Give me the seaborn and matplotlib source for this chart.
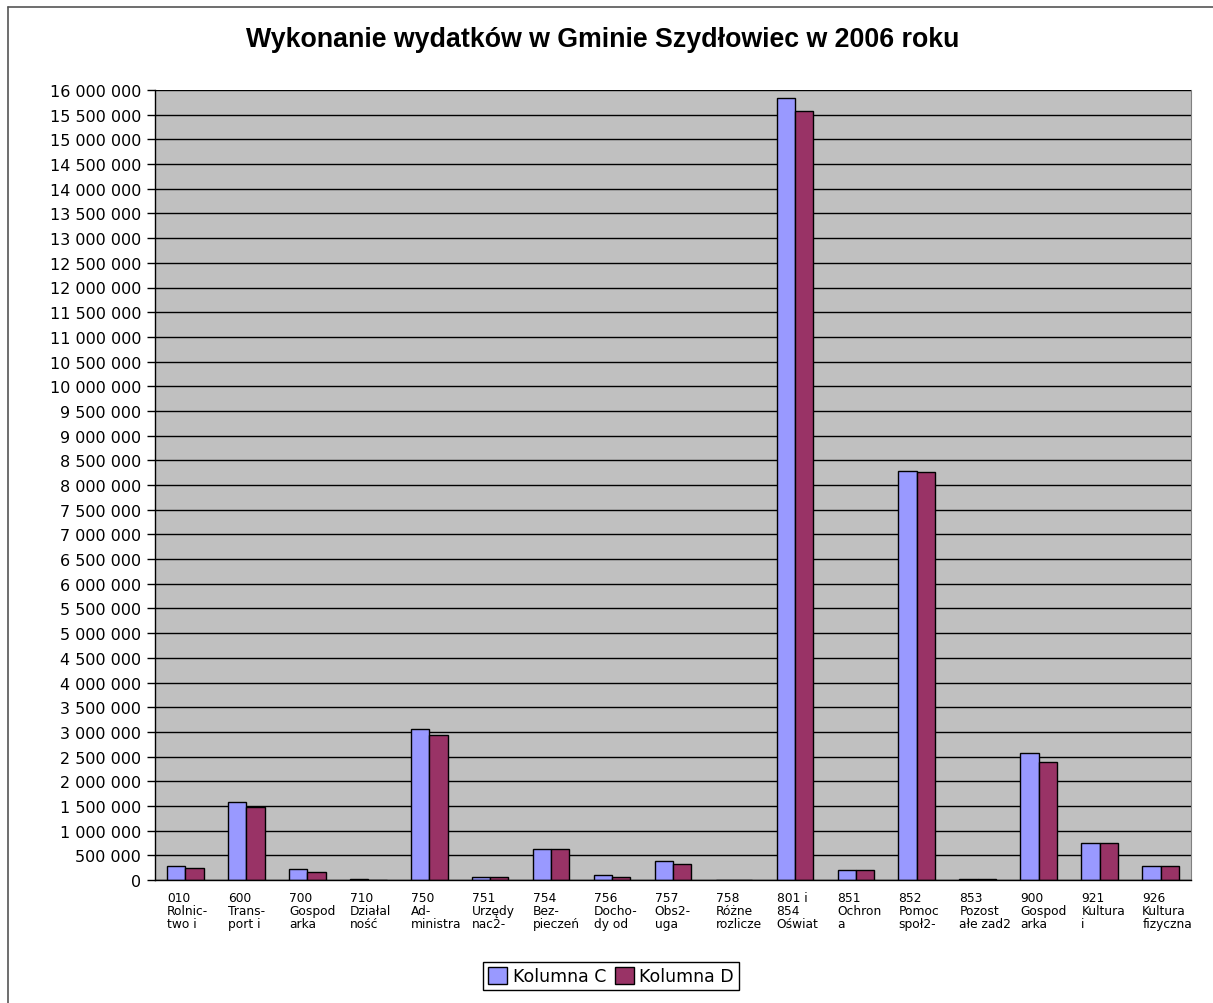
import numpy as np
import pandas as pd
import matplotlib
matplotlib.use("Agg")
import matplotlib.pyplot as plt
from matplotlib.lines import Line2D
import seaborn as sns

# Dane
kategorie = ["010\nRolnic-\ntwo i", "600\nTrans-\nport i", "700\nGospod\narka",
             "710\nDziałal\nność", "750\nAd-\nministra", "751\nUrzędy\nnac2-",
             "754\nBez-\npieczeń", "756\nDocho-\ndy od", "757\nObs2-\nuga",
             "758\nRóżne\nrozlicze", "801 i\n854\nOświat", "851\nOchron\na",
             "852\nPomoc\nspoł2-", "853\nPozost\nałe zad2", "900\nGospod\narka",
             "921\nKultura\ni", "926\nKultura\nfizyczna"]
kolumna_c = [275000, 1575000, 215000, 27000, 3050000, 67000, 635000, 95000, 380000,
             0, 15830000, 200000, 8290000, 30000, 2580000, 740000, 275000]
kolumna_d = [235000, 1470000, 155000, 8000, 2940000, 65000, 635000, 70000, 330000,
             0, 15570000, 200000, 8260000, 28000, 2400000, 740000, 275000]
serie = ["Kolumna C", "Kolumna D"]
kolory = ["#9999FF", "#993366"]

df = pd.DataFrame({
    "kat": kategorie * 2,
    "wartosc": kolumna_c + kolumna_d,
    "seria": [serie[0]] * len(kategorie) + [serie[1]] * len(kategorie),
})

sns.set_style("white")
plt.rcParams["font.family"] = ["DejaVu Sans"]
plt.rcParams["text.color"] = "black"
plt.rcParams["xtick.color"] = "black"
plt.rcParams["ytick.color"] = "black"

fig = plt.figure(figsize=(12.13, 10.04), dpi=100)
ax = fig.add_axes([155 / 1213, 123 / 1004, 1036 / 1213, 790 / 1004])
ax.set_facecolor("#C0C0C0")

sns.barplot(data=df, x="kat", y="wartosc", hue="seria", palette=kolory, saturation=1,
            width=0.6, edgecolor="black", linewidth=1, ax=ax, legend=True)

n = len(kategorie)
ax.set_xlim(-0.5, n - 0.5)
ax.set_ylim(0, 16000000)
yt = np.arange(0, 16000001, 500000)
ax.set_yticks(yt)
ax.set_yticklabels([f"{int(v):,}".replace(",", " ") for v in yt], fontsize=11.5)
ax.yaxis.grid(True, color="black", linewidth=1)
ax.set_axisbelow(True)
ax.tick_params(axis="y", direction="out", length=6, width=1, color="black", pad=4, left=True)

# etykiety osi X wyrównane do lewej, zaczynają się tuż za granicą kategorii
ax.set_xticks(np.arange(n) - 0.3)
ax.set_xticklabels(kategorie, fontsize=8.8, ha="left", multialignment="left", linespacing=1.0)
ax.tick_params(axis="x", length=0, pad=8)
ax.set_xticks(np.arange(-0.5, n), minor=True)
ax.tick_params(axis="x", which="minor", direction="out", length=6, width=1, color="black")

ax.set_xlabel("")
ax.set_ylabel("")
for s in ["left", "bottom"]:
    ax.spines[s].set_color("black")
    ax.spines[s].set_linewidth(1)
ax.spines["top"].set_visible(False)
ax.spines["right"].set_color("#808080")

fig.text(603 / 1213, 1 - 40 / 1004, "Wykonanie wydatków w Gminie Szydłowiec w 2006 roku",
         ha="center", va="center", fontsize=19.3, fontweight="bold", color="black",
         family=["Liberation Sans", "DejaVu Sans"])

h, l = ax.get_legend_handles_labels()
ax.legend_.remove()
leg = fig.legend(h, l, loc="center", bbox_to_anchor=(611 / 1213, 27 / 1004), ncol=2,
                 frameon=True, fancybox=False, edgecolor="black", fontsize=12.5,
                 handlelength=1.1, handleheight=1.1, handletextpad=0.3,
                 columnspacing=0.5, borderpad=0.3, framealpha=1)
leg.get_frame().set_linewidth(1)

# ramka wykresu
fig.add_artist(Line2D([8 / 1213, 8 / 1213], [0, 1 - 8 / 1004], color="#555555", lw=1.2,
                      transform=fig.transFigure))
fig.add_artist(Line2D([8 / 1213, 1], [1 - 8 / 1004, 1 - 8 / 1004], color="#555555", lw=1.2,
                      transform=fig.transFigure))

fig.savefig("out.png", dpi=100, facecolor="white")
